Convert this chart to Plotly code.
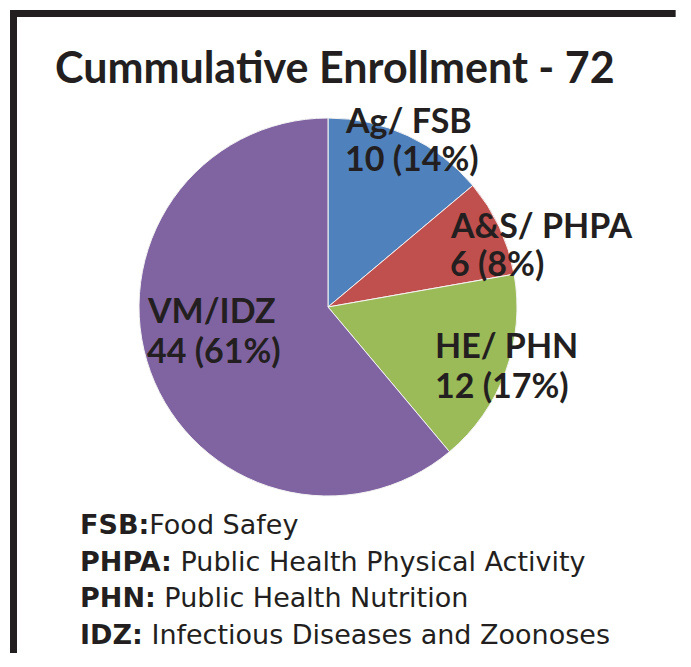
import plotly.graph_objects as go

# Browser page has an 8px body margin; keep the figure small enough that no
# scrollbars appear.
OFF = 8
W, H = 691 - 2 * OFF - 4, 667 - 2 * OFF - 6

title_text = "Cummulative Enrollment - 72"
slice_labels = ["Ag/ FSB", "A&S/ PHPA", "HE/ PHN", "VM/IDZ"]
slice_values = [10, 6, 12, 44]
slice_colors = ["#4F81BD", "#C0504D", "#9BBB59", "#8064A2"]

abbrevs = ["FSB:", "PHPA:", "PHN:", "IDZ:"]
meanings = ["Food Safey", " Public Health Physical Activity", " Public Health Nutrition",
            " Infectious Diseases and Zoonoses"]

INK = "#231F20"


def px(x):
    return (x - OFF) / W


def py(y):
    return 1 - (y - OFF) / H


cx, cy, r = 328, 307, 189

fig = go.Figure(go.Pie(
    labels=slice_labels,
    values=slice_values,
    marker=dict(colors=slice_colors, line=dict(color="#F4F4F4", width=1)),
    sort=False,
    direction="clockwise",
    rotation=0,
    textinfo="none",
    hoverinfo="label+value+percent",
    showlegend=False,
    domain=dict(x=[px(cx - r), px(cx + r)], y=[py(cy + r), py(cy - r)]),
))

total = sum(slice_values)
# label positions: left x, cap-middle y of line 1 and line 2 (pixels)
label_pos = [(345, 120, 159), (450, 225, 263), (435, 345, 385), (147, 310, 350)]
annotations = []
for lab, val, (lx, y1, y2) in zip(slice_labels, slice_values, label_pos):
    pct = round(100 * val / total)
    for line, ly in ((lab, y1), (f"{val} ({pct}%)", y2)):
        annotations.append(dict(
            text=f"<b>{line}</b>",
            x=px(lx - 2), y=py(ly - 1), xref="paper", yref="paper",
            xanchor="left", yanchor="middle", align="left", showarrow=False,
            font=dict(family="Lato", size=34, color=INK),
        ))

annotations.append(dict(
    text=f"<b>{title_text}</b>", x=px(335), y=py(66), xref="paper", yref="paper",
    xanchor="center", yanchor="middle", showarrow=False,
    font=dict(family="Lato", size=43, color=INK),
))

legend_y = [524, 561, 597, 634]
for ab, me, ly in zip(abbrevs, meanings, legend_y):
    annotations.append(dict(
        text=f"<b>{ab}</b>{me}", x=px(78), y=py(ly), xref="paper", yref="paper",
        xanchor="left", yanchor="middle", align="left", showarrow=False,
        font=dict(family="DejaVu Sans", size=27, color=INK),
    ))

shapes = [
    dict(type="rect", xref="paper", yref="paper", x0=px(10), x1=0.995, y0=py(17), y1=py(10),
         fillcolor=INK, line=dict(width=0)),
    dict(type="rect", xref="paper", yref="paper", x0=px(10), x1=px(17), y0=0, y1=py(10),
         fillcolor=INK, line=dict(width=0)),
]

fig.update_layout(
    width=W, height=H,
    margin=dict(l=0, r=0, t=0, b=0),
    paper_bgcolor="white", plot_bgcolor="white",
    annotations=annotations, shapes=shapes,
)

fig.write_html("out.html")
